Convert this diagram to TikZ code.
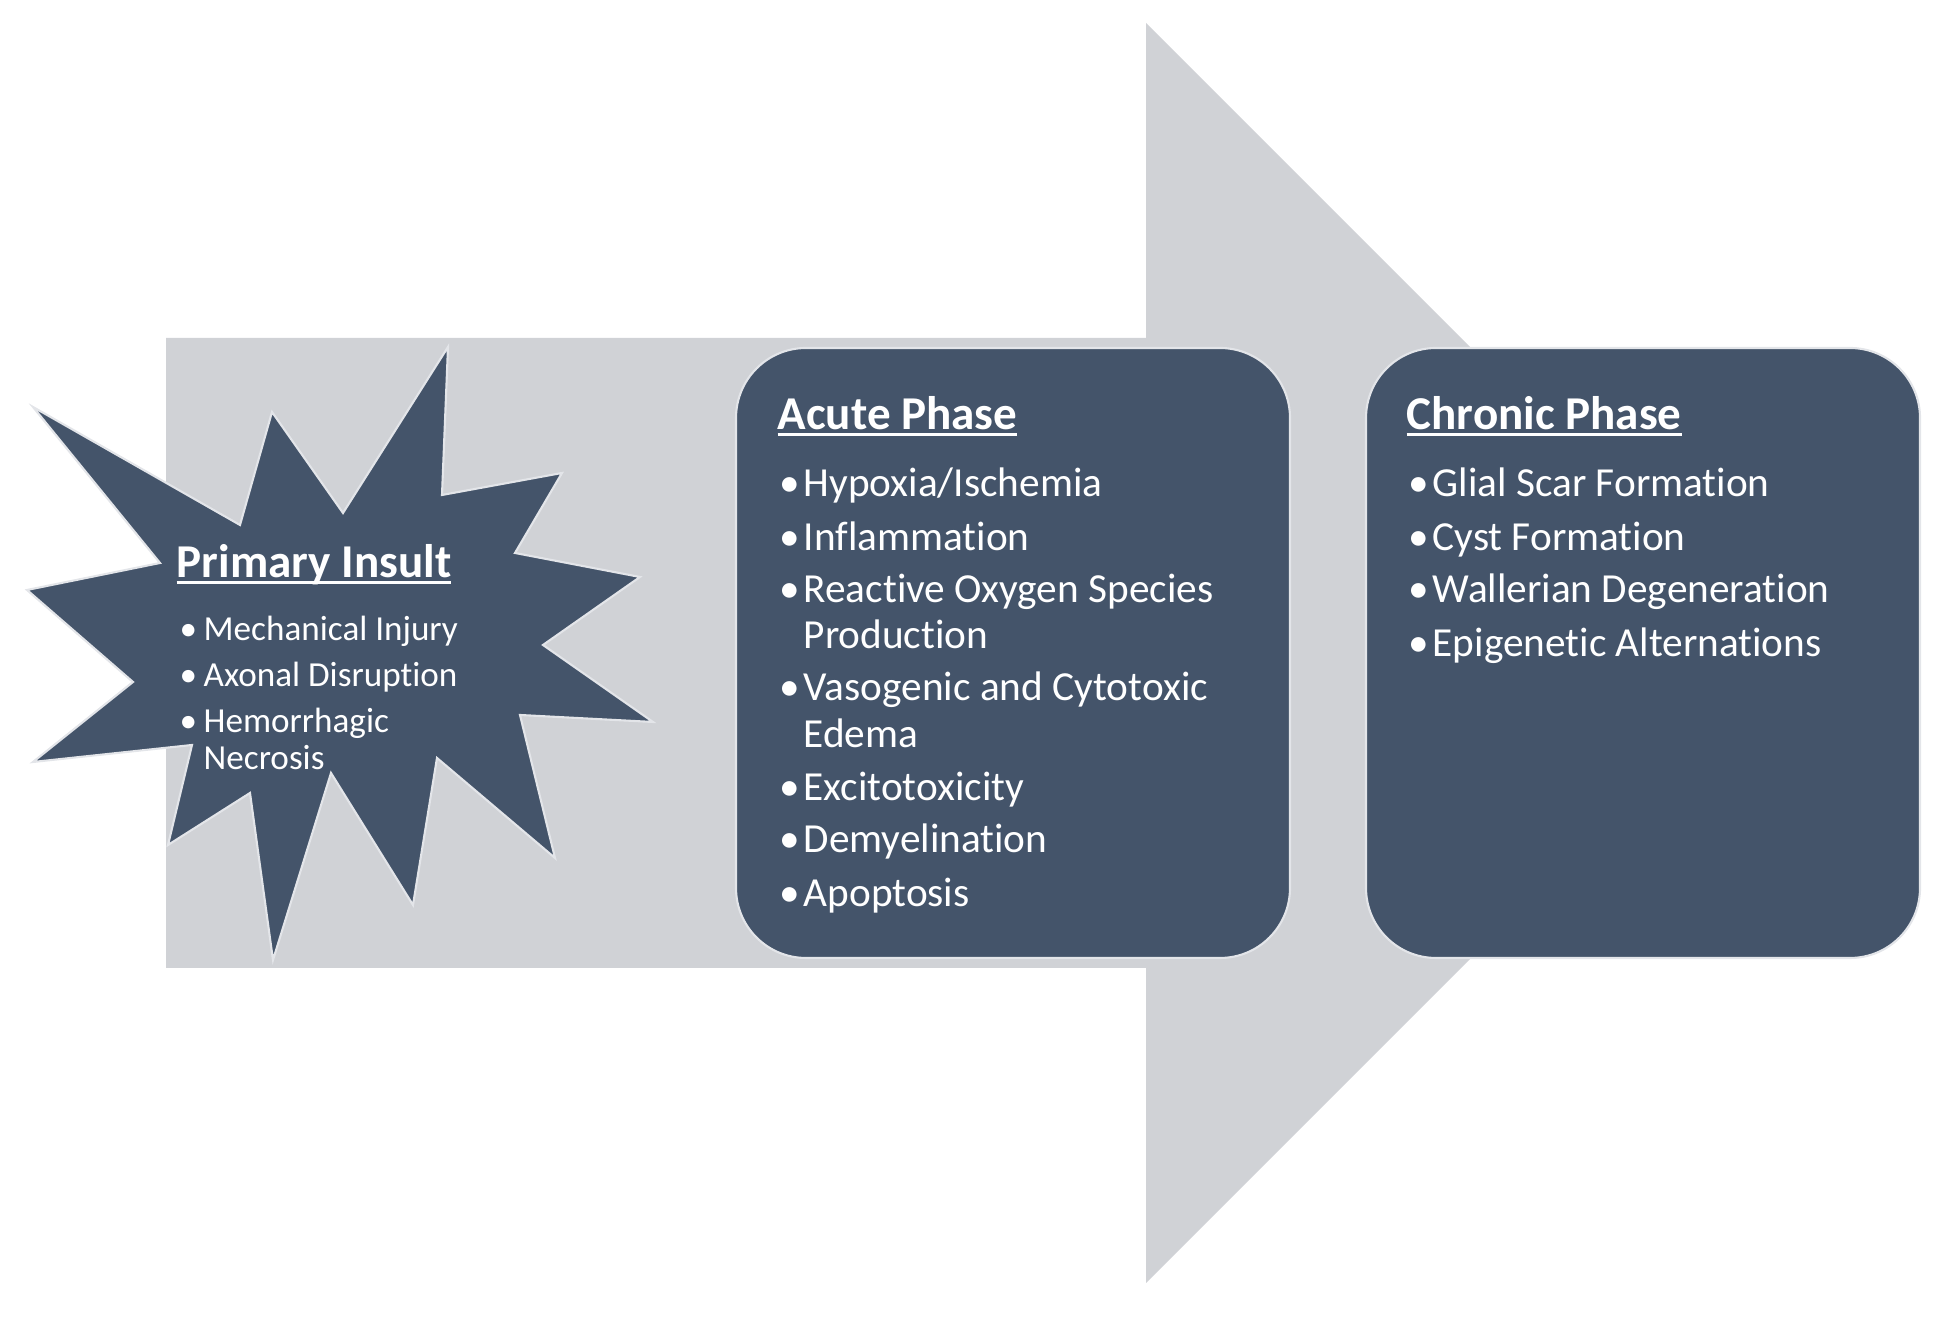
\documentclass[tikz,border=0pt]{standalone}
\usepackage{fontspec}
\setmainfont{Carlito}[Ligatures=NoCommon]
\definecolor{cSlate}{HTML}{44546A}
\definecolor{cArrow}{HTML}{D0D2D6}
\newsavebox{\hdrbox}
\newcommand{\hdr}[1]{\sbox{\hdrbox}{#1}\rlap{\rule[-1.7pt]{\wd\hdrbox}{0.85pt}}\usebox{\hdrbox}}
\newcommand{\bul}{\makebox[0.24cm][l]{\textbullet}}
\newcommand{\ind}{\hspace*{0.24cm}}
\tikzset{
    flow/.style={fill=cArrow},
    burst/.style={fill=cSlate, draw=white!85!cSlate, line width=0.6pt, line join=miter},
    phase/.style={fill=cSlate, draw=white!85!cSlate, line width=0.6pt, rounded corners=0.7cm,
                  minimum width=5.54cm, minimum height=6.10cm, inner sep=0pt},
    ttl/.style={text=white, inner sep=0pt, anchor=base west,
                font=\bfseries\fontsize{13.4}{16}\selectfont},
    itm/.style={text=white, inner sep=0pt, anchor=base west,
                font=\fontsize{11.75}{14}\selectfont},
    itmS/.style={itm, font=\fontsize{10}{12}\selectfont},
}

\begin{document}
\begin{tikzpicture}[x=1cm, y=1cm]
\useasboundingbox (0,0) rectangle (19.52,13.23);

% big grey arrow behind everything
\fill[flow] (1.66,3.55) -- (1.66,9.85) -- (11.46,9.85) -- (11.46,13.00)
    -- (17.76,6.70) -- (11.46,0.40) -- (11.46,3.55) -- cycle;

% phase boxes
\node[phase] (acute) at (10.13,6.70) {};
\node[phase] (chronic) at (16.43,6.70) {};

% starburst: primary insult
\filldraw[burst] (0.33,9.16) -- (2.40,7.98) -- (2.72,9.11) -- (3.43,8.10)
    -- (4.48,9.76) -- (4.42,8.28) -- (5.62,8.50) -- (5.15,7.70)
    -- (6.40,7.46) -- (5.43,6.78) -- (6.53,6.01) -- (5.20,6.08)
    -- (5.55,4.65) -- (4.37,5.65) -- (4.13,4.18) -- (3.31,5.50)
    -- (2.73,3.63) -- (2.50,5.30) -- (1.68,4.78) -- (1.92,5.78)
    -- (0.33,5.61) -- (1.33,6.41) -- (0.27,7.33) -- (1.60,7.60) -- cycle;

\node[ttl] (piT) at (1.76,7.45) {\hdr{Primary Insult}};
\foreach \yy/\txt [count=\i] in {6.82/\bul Mechanical Injury, 6.36/\bul Axonal Disruption,
    5.90/\bul Hemorrhagic, 5.53/\ind Necrosis}
  {\node[itmS] (pi\i) at (1.79,\yy) {\txt};}

% acute phase list
\node[ttl] (acT) at (7.77,8.93) {\hdr{Acute Phase}};
\foreach \yy/\txt [count=\i] in {8.26/{\bul Hypoxia/Ischemia}, 7.72/\bul Inflammation,
    7.20/\bul Reactive Oxygen Species, 6.74/\ind Production,
    6.22/\bul Vasogenic and Cytotoxic, 5.75/\ind Edema,
    5.22/\bul Excitotoxicity, 4.70/\bul Demyelination, 4.16/\bul Apoptosis}
  {\node[itm] (ac\i) at (7.79,\yy) {\txt};}

% chronic phase list
\node[ttl] (chT) at (14.06,8.93) {\hdr{Chronic Phase}};
\foreach \yy/\txt [count=\i] in {8.26/\bul Glial Scar Formation, 7.72/\bul Cyst Formation,
    7.20/\bul Wallerian Degeneration, 6.66/\bul Epigenetic Alternations}
  {\node[itm] (ch\i) at (14.08,\yy) {\txt};}

\end{tikzpicture}
\end{document}
